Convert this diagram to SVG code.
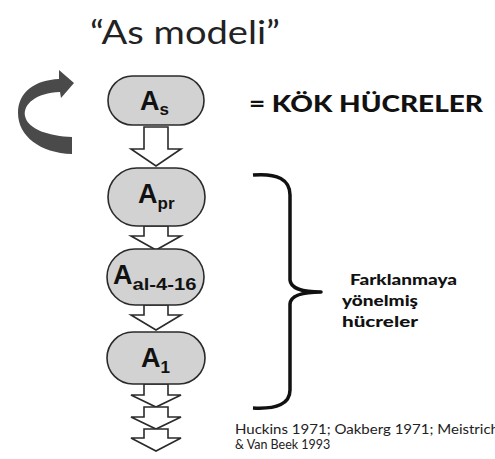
<svg xmlns="http://www.w3.org/2000/svg" width="495" height="459" viewBox="0 0 495 459">
<style>
.node{fill:#d2d2d2;stroke:#2a2a2a;stroke-width:1.6}
.A{font-family:"Liberation Sans",Arial,sans-serif;font-weight:bold;font-size:27px;fill:#111}
.sub{font-family:"Liberation Sans",Arial,sans-serif;font-weight:bold;font-size:17px;fill:#111}
.arr{fill:#fff;stroke:#2a2a2a;stroke-width:1.6;stroke-linejoin:miter}
.gill{font-family:Lato,"Open Sans",sans-serif}
</style>
<rect width="495" height="459" fill="#fff"/>
<text class="gill" x="90" y="44" font-size="33" fill="#222" textLength="190" lengthAdjust="spacingAndGlyphs">“As modeli”</text>
<path d="M72 154 L72 137 C50 136 28 130 25 116 C23 104 36 93 60 92 L61 98 L74 83 L59 70 L59 79 C35 80 18 92 18 113 C18 136 40 153 72 154 Z" fill="#4a4a4a"/>
<text class="gill" x="249" y="112" font-size="22" font-weight="900" fill="#111" textLength="234" lengthAdjust="spacingAndGlyphs">= KÖK HÜCRELER</text>
<g id="connectors">
<path class="arr" d="M144 127 L168 127 L168 149 L181 149 L156 166 L131 149 L144 149 Z"/>
<path class="arr" d="M144 226 L168 226 L168 236 L181 236 L156 250 L131 236 L144 236 Z"/>
<path class="arr" d="M144 305 L168 305 L168 315 L181 315 L156 330 L131 315 L144 315 Z"/>
<path class="arr" d="M144 384 L168 384 L168 395 L181 395 L156 407 L131 395 L144 395 Z"/>
<path class="arr" d="M144 407 L168 407 L168 417 L181 417 L156 429 L131 417 L144 417 Z"/>
<path class="arr" d="M144 429 L168 429 L168 438 L181 438 L156 451 L131 438 L144 438 Z"/>
</g>
<g id="As">
<rect class="node" x="108" y="76" width="96" height="49" rx="24.5"/>
<text class="A" x="140" y="110">A<tspan class="sub" dy="5">s</tspan></text>
</g>
<g id="Apr">
<rect class="node" x="108" y="168" width="97" height="58" rx="29"/>
<text class="A" x="138" y="203">A<tspan class="sub" dy="6">pr</tspan></text>
</g>
<g id="Aal">
<rect class="node" x="107" y="249" width="97" height="56" rx="28"/>
<text class="A" x="113" y="284">A<tspan class="sub" dy="6" textLength="64" lengthAdjust="spacingAndGlyphs">al-4-16</tspan></text>
</g>
<g id="A1">
<rect class="node" x="107" y="332" width="98" height="52" rx="26"/>
<text class="A" x="141" y="367">A<tspan class="sub" dy="6">1</tspan></text>
</g>
<path d="M253 175 Q290 172 290 195 L290 280 Q291 292 321 292 Q291 292 290 304 L290 390 Q290 410 253 408" fill="none" stroke="#111" stroke-width="3.5" stroke-linejoin="round"/>
<g class="gill" font-weight="900" font-size="15" fill="#111">
<text x="350" y="285" textLength="107" lengthAdjust="spacingAndGlyphs">Farklanmaya</text>
<text x="342" y="306" textLength="76" lengthAdjust="spacingAndGlyphs">yönelmiş</text>
<text x="342" y="327" textLength="76" lengthAdjust="spacingAndGlyphs">hücreler</text>
</g>
<g class="gill" font-size="12.5" fill="#222">
<text x="235" y="434" textLength="264" lengthAdjust="spacingAndGlyphs">Huckins 1971; Oakberg 1971; Meistrich</text>
<text x="235" y="449">&amp; Van Beek 1993</text>
</g>
</svg>
